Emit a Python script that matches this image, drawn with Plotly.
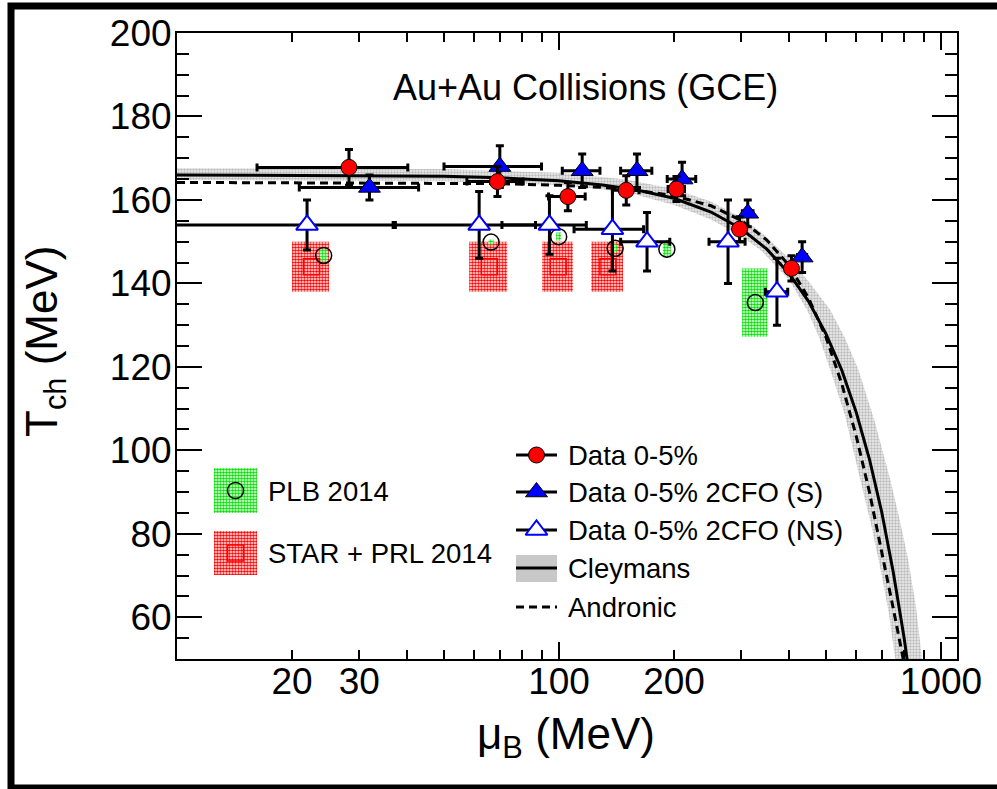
import plotly.graph_objects as go

# ---------------- data (muB and Tch in MeV) ----------------
# Data 0-5%
data_mu = [28.2, 69.0, 105.5, 150.0, 203.0, 297.0, 406.0]
data_T = [167.8, 164.4, 160.8, 162.3, 162.6, 153.0, 143.6]
data_mu_err = [12.0, 11.6, 11.6, 12.0, 10.0, 8.0, 10.0]
data_T_err = [4.3, 3.6, 3.4, 3.5, 3.0, 3.0, 3.0]

# Data 0-5% 2CFO (S)
s_mu = [31.9, 70.0, 115.0, 160.0, 210.0, 312.0, 433.0]
s_T = [163.0, 168.0, 167.0, 167.0, 165.0, 156.8, 146.3]
s_mu_err = [11.0, 20.0, 13.0, 15.0, 18.0, 10.0, 12.0]
s_T_err = [3.0, 5.0, 4.0, 4.0, 4.0, 3.2, 3.7]

# Data 0-5% 2CFO (NS)
ns_mu = [21.9, 61.8, 94.4, 138.0, 170.0, 277.0, 372.0]
ns_T = [154.0, 154.0, 154.0, 153.0, 150.0, 150.0, 138.0]
ns_mu_err = [15.4, 25.0, 23.5, 28.5, 25.0, 30.0, 25.0]
ns_T_err = [6.0, 8.0, 7.0, 10.0, 7.0, 10.0, 8.0]

# PLB 2014 (points with error boxes)
plb_mu = [24.2, 66.4, 99.8, 140.3, 191.6, 326.5]
plb_T = [146.7, 149.9, 151.2, 148.4, 148.2, 135.4]
plb_mu_err = [0.6, 1.0, 1.5, 1.5, 4.6, 25.0]
plb_T_err = [1.4, 0.6, 1.0, 1.0, 1.8, 8.2]

# STAR + PRL 2014 (points with error boxes)
star_mu = [22.5, 65.7, 99.5, 134.3]
star_T = [144.0, 144.0, 144.0, 144.0]
star_mu_err = [2.5, 7.5, 9.2, 12.8]
star_T_err = [6.0, 6.0, 6.0, 6.0]

# Cleymans freeze-out curve
cley_mu = [10, 30, 50, 70, 100, 130, 160, 200, 250, 300, 350, 400, 450,
           500, 550, 600, 650, 700, 750, 800, 850]
cley_T = [166.0, 165.9, 165.7, 165.3, 164.6, 163.6, 162.4, 160.4, 157.1,
          153.1, 148.2, 142.4, 135.7, 127.9, 119.2, 109.1, 97.8, 85.1,
          70.8, 55.3, 38.0]

# Cleymans uncertainty band edges
band_hi_mu = [10, 50, 100, 150, 200, 250, 300, 337, 400, 450, 513, 560,
              608, 670, 737, 780, 821, 860, 892, 930]
band_hi_T = [167.6, 167.4, 166.5, 164.9, 162.6, 159.6, 155.8, 152.4, 146.0,
             140.5, 133.6, 127.0, 119.3, 107.0, 92.9, 83.3, 73.7, 62.5,
             50.0, 38.0]
band_lo_mu = [10, 50, 100, 150, 200, 250, 300, 337, 400, 446, 480, 513,
              560, 615, 655, 693, 730, 759, 790]
band_lo_T = [164.8, 164.5, 163.6, 161.9, 158.8, 155.3, 151.3, 148.0, 140.9,
             133.6, 127.0, 119.3, 108.5, 92.9, 82.5, 72.0, 61.0, 50.0, 38.5]

# Andronic freeze-out curve
andr_mu = [10, 30, 50, 70, 100, 130, 160, 200, 250, 300, 350, 400, 450,
           500, 550, 600, 650, 700, 750, 800, 850]
andr_T = [164.2, 164.1, 164.0, 163.9, 163.5, 163.0, 162.3, 161.0, 158.6,
          155.1, 150.4, 144.3, 136.5, 127.1, 115.9, 103.4, 89.9, 75.9,
          62.1, 49.1, 37.0]

# Axis ticks
x_tick_vals = [20, 30, 100, 200, 1000]
x_tick_text = ["20", "30", "100", "200", "1000"]
x_minor_vals = [40, 50, 60, 70, 80, 90, 300, 400, 500, 600, 700, 800, 900]
x_long_ticks = [100, 1000]

# ---------------- layout geometry ----------------
W, H = 997, 789
ML, MR, MT, MB = 177, 40, 33, 130
PW, PH = W - ML - MR, H - MT - MB
FONT = "Liberation Sans, Arial, Helvetica, sans-serif"


def fx(px):
    return (px - ML) / PW


def fy(py):
    return (H - MB - py) / PH


def box_polygons(xc, yc, dx, dy):
    xs, ys = [], []
    for x, y, ex, ey in zip(xc, yc, dx, dy):
        xs += [x - ex, x + ex, x + ex, x - ex, x - ex, None]
        ys += [y - ey, y - ey, y + ey, y + ey, y - ey, None]
    return xs, ys


def checker(color):
    return dict(shape=".", fgcolor=color, bgcolor="white", size=3,
                solidity=0.6, fillmode="replace")


def errs(arr):
    return dict(type="data", array=arr, color="black", thickness=3, width=4)


fig = go.Figure()

# Cleymans band
fig.add_trace(go.Scatter(
    x=band_hi_mu + band_lo_mu[::-1], y=band_hi_T + band_lo_T[::-1],
    mode="lines", fill="toself", line=dict(width=0),
    fillpattern=dict(shape=".", fgcolor="#bcbcbc", bgcolor="#efefef",
                     size=3, solidity=0.5, fillmode="replace"),
    hoverinfo="skip"))
fig.add_trace(go.Scatter(x=cley_mu, y=cley_T, mode="lines",
                         line=dict(color="black", width=3)))
fig.add_trace(go.Scatter(x=andr_mu, y=andr_T, mode="lines",
                         line=dict(color="black", width=3, dash="8px,5px")))

# Error boxes
bx, by = box_polygons(star_mu, star_T, star_mu_err, star_T_err)
fig.add_trace(go.Scatter(x=bx, y=by, mode="lines", fill="toself",
                         line=dict(width=0), fillpattern=checker("#ff0000")))
bx, by = box_polygons(plb_mu, plb_T, plb_mu_err, plb_T_err)
fig.add_trace(go.Scatter(x=bx, y=by, mode="lines", fill="toself",
                         line=dict(width=0), fillpattern=checker("#00e000")))

fig.add_trace(go.Scatter(
    x=star_mu, y=star_T, mode="markers",
    marker=dict(symbol="square-open", size=16, color="red",
                line=dict(color="red", width=1.5))))
fig.add_trace(go.Scatter(
    x=plb_mu, y=plb_T, mode="markers",
    marker=dict(symbol="circle-open", size=16, color="black",
                line=dict(color="black", width=1.5))))

# Two-CFO non-strange
fig.add_trace(go.Scatter(
    x=ns_mu, y=ns_T, mode="markers",
    error_x=errs(ns_mu_err), error_y=errs(ns_T_err),
    marker=dict(symbol="triangle-up", size=19, color="white",
                line=dict(color="#0000ff", width=2))))
# Two-CFO strange
fig.add_trace(go.Scatter(
    x=s_mu, y=s_T, mode="markers",
    error_x=errs(s_mu_err), error_y=errs(s_T_err),
    marker=dict(symbol="triangle-up", size=19, color="#0000ff",
                line=dict(color="black", width=1))))
# Single freeze-out
fig.add_trace(go.Scatter(
    x=data_mu, y=data_T, mode="markers",
    error_x=errs(data_mu_err), error_y=errs(data_T_err),
    marker=dict(symbol="circle", size=16, color="#ff0000",
                line=dict(color="black", width=1))))

# ---------------- legend (pixel-coordinate overlay) ----------------
LX = dict(xaxis="x3", yaxis="y3", hoverinfo="skip")
# left legend
fig.add_trace(go.Scatter(x=[214, 257, 257, 214, 214], y=[468, 468, 513, 513, 468],
                         mode="lines", fill="toself", line=dict(width=0),
                         fillpattern=checker("#00e000"), **LX))
fig.add_trace(go.Scatter(x=[214, 257, 257, 214, 214], y=[531, 531, 575, 575, 531],
                         mode="lines", fill="toself", line=dict(width=0),
                         fillpattern=checker("#ff0000"), **LX))
fig.add_trace(go.Scatter(x=[235.5], y=[490.5], mode="markers",
                         marker=dict(symbol="circle-open", size=16, color="black",
                                     line=dict(color="black", width=1.5)), **LX))
fig.add_trace(go.Scatter(x=[235.5], y=[553], mode="markers",
                         marker=dict(symbol="square-open", size=16, color="red",
                                     line=dict(color="red", width=1.5)), **LX))
# right legend
rows = [455, 492, 530, 568, 607]
fig.add_trace(go.Scatter(x=[516, 557, 557, 516, 516], y=[555, 555, 582, 582, 555],
                         mode="lines", fill="toself", line=dict(width=0),
                         fillcolor="#c8c8c8", **LX))
for r in rows[:4]:
    fig.add_trace(go.Scatter(x=[516, 557], y=[r, r], mode="lines",
                             line=dict(color="black", width=3), **LX))
fig.add_trace(go.Scatter(x=[516, 557], y=[rows[4], rows[4]], mode="lines",
                         line=dict(color="black", width=3, dash="8px,5px"), **LX))
fig.add_trace(go.Scatter(x=[536.5], y=[rows[0]], mode="markers",
                         marker=dict(symbol="circle", size=16, color="#ff0000",
                                     line=dict(color="black", width=1)), **LX))
fig.add_trace(go.Scatter(x=[536.5], y=[rows[1]], mode="markers",
                         marker=dict(symbol="triangle-up", size=19, color="#0000ff",
                                     line=dict(color="black", width=1)), **LX))
fig.add_trace(go.Scatter(x=[536.5], y=[rows[2]], mode="markers",
                         marker=dict(symbol="triangle-up", size=19, color="white",
                                     line=dict(color="#0000ff", width=2)), **LX))

legend_font = dict(family=FONT, size=27.5, color="black")
annotations = []
for txt, px, py in [("PLB 2014", 266, 491), ("STAR + PRL 2014", 266, 553),
                    ("Data 0-5%", 566, rows[0]),
                    ("Data 0-5% 2CFO (S)", 566, rows[1]),
                    ("Data 0-5% 2CFO (NS)", 566, rows[2]),
                    ("Cleymans", 566, rows[3]), ("Andronic", 566, rows[4])]:
    annotations.append(dict(text=txt, x=fx(px), y=fy(py), xref="paper", yref="paper",
                            xanchor="left", yanchor="middle", showarrow=False,
                            font=legend_font))

annotations.append(dict(text="Au+Au Collisions (GCE)", x=fx(585), y=fy(87),
                        xref="paper", yref="paper", xanchor="center",
                        yanchor="middle", showarrow=False,
                        font=dict(family=FONT, size=36, color="black")))
annotations.append(dict(text="μ<sub>B</sub> (MeV)", x=fx(566), y=fy(737),
                        xref="paper", yref="paper", xanchor="center",
                        yanchor="middle", showarrow=False,
                        font=dict(family=FONT, size=44, color="black")))
annotations.append(dict(text="T<sub>ch</sub> (MeV)", x=fx(45), y=fy(342),
                        xref="paper", yref="paper", xanchor="center",
                        yanchor="middle", showarrow=False, textangle=-90,
                        font=dict(family=FONT, size=44, color="black")))

shapes = []
for v in x_long_ticks:
    shapes.append(dict(type="line", xref="x", yref="paper", x0=v, x1=v,
                       ysizemode="pixel", yanchor=0, y0=0, y1=17,
                       line=dict(color="black", width=2)))
    shapes.append(dict(type="line", xref="x", yref="paper", x0=v, x1=v,
                       ysizemode="pixel", yanchor=1, y0=0, y1=-17,
                       line=dict(color="black", width=2)))
# canvas frame
shapes.append(dict(type="rect", xref="paper", yref="paper",
                   x0=fx(11), x1=fx(1010), y0=fy(788), y1=fy(6),
                   line=dict(color="black", width=7), fillcolor="rgba(0,0,0,0)"))

tickfont = dict(family=FONT, size=37, color="black")
fig.update_layout(
    width=W, height=H,
    margin=dict(l=ML, r=MR, t=MT, b=MB, pad=0),
    paper_bgcolor="white", plot_bgcolor="white",
    showlegend=False,
    xaxis=dict(type="log", range=[1, 3.0419], autorange=False,
               showline=True, linecolor="black", linewidth=2, mirror="allticks",
               ticks="inside", ticklen=9, tickwidth=2, tickcolor="black",
               tickmode="array", tickvals=x_tick_vals, ticktext=x_tick_text,
               tickfont=tickfont, ticklabelstandoff=-11,
               showgrid=False, zeroline=False,
               minor=dict(tickmode="array", tickvals=x_minor_vals, ticks="inside",
                          ticklen=9, tickwidth=2, tickcolor="black",
                          showgrid=False)),
    yaxis=dict(range=[50, 200], autorange=False,
               showline=True, linecolor="black", linewidth=2, mirror="allticks",
               ticks="inside", ticklen=25, tickwidth=2, tickcolor="black",
               tick0=0, dtick=20, tickfont=tickfont, ticklabelstandoff=-4,
               showgrid=False, zeroline=False,
               minor=dict(ticks="inside", ticklen=12, tickwidth=2,
                          tickcolor="black", tick0=0, dtick=5, showgrid=False)),
    xaxis3=dict(overlaying="x", anchor="y3", range=[ML, W - MR],
                autorange=False, visible=False, fixedrange=True),
    yaxis3=dict(overlaying="y", anchor="x3", range=[H - MB, MT],
                autorange=False, visible=False, fixedrange=True),
    annotations=annotations,
    shapes=shapes,
)

fig.write_html("out.html")
